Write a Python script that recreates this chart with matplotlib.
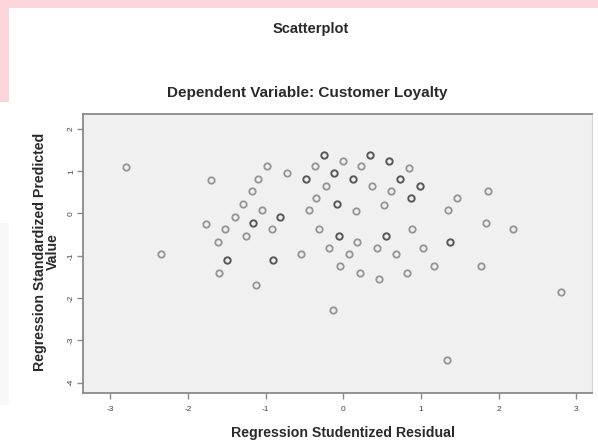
import matplotlib
matplotlib.use("Agg")
import matplotlib.pyplot as plt
from matplotlib.patches import Rectangle

plt.rcParams['font.family'] = ['Liberation Sans', 'DejaVu Sans']

# studentized residual (x) / standardized predicted value (y)
# n_cases = 2 where two cases sit on the same spot (drawn darker)
resid = [-2.80, -1.70, -1.10, -1.18, -1.29, -1.40, -1.05, -1.77, -1.52, -1.16,
         -1.62, -1.26, -2.35, -1.50, -1.60, -0.25, 0.35, 0.59, -0.01, -0.98,
         -0.37, 0.23, 0.84, -0.73, -0.12, -0.48, 0.12, 0.73, -0.22, 0.37,
         0.99, 0.62, -0.35, 0.87, 0.53, -0.44, -0.08, 0.16, -0.82, -0.92,
         -0.31, 0.89, -0.06, 0.55, 0.18, -0.18, 0.43, 1.03, -0.54, 0.07,
         0.68, -0.90, -0.04, 1.46, 1.87, 1.35, 1.84, 2.18, 1.38, 1.17,
         1.78, -1.13, -0.13, 0.22, 0.46, 0.82, 2.80, 1.33]
pred = [1.09, 0.79, 0.81, 0.52, 0.22, -0.09, 0.07, -0.25, -0.37, -0.23,
        -0.67, -0.53, -0.96, -1.11, -1.40, 1.38, 1.38, 1.23, 1.23, 1.11,
        1.11, 1.11, 1.08, 0.95, 0.95, 0.81, 0.81, 0.81, 0.66, 0.66,
        0.66, 0.52, 0.37, 0.36, 0.21, 0.07, 0.22, 0.06, -0.09, -0.37,
        -0.37, -0.37, -0.53, -0.53, -0.67, -0.81, -0.81, -0.81, -0.96, -0.96,
        -0.96, -1.11, -1.25, 0.36, 0.52, 0.07, -0.23, -0.37, -0.67, -1.24,
        -1.24, -1.69, -2.28, -1.40, -1.55, -1.40, -1.85, -3.47]
n_cases = [1, 1, 1, 1, 1, 1, 1, 1, 1, 2,
           1, 1, 1, 2, 1, 2, 2, 2, 1, 1,
           1, 1, 1, 1, 2, 2, 2, 2, 1, 1,
           2, 1, 1, 2, 1, 1, 2, 1, 2, 1,
           1, 1, 2, 2, 1, 1, 1, 1, 1, 1,
           1, 2, 1, 1, 1, 1, 1, 1, 2, 1,
           1, 1, 1, 1, 1, 1, 1, 1]

x_ticks = [-3, -2, -1, 0, 1, 2, 3]
y_ticks = [2, 1, 0, -1, -2, -3, -4]

fig = plt.figure(figsize=(5.98, 4.43), dpi=100)
fig.patch.set_facecolor('white')

# pink frame strip at top / left and faint panel at lower left
fig.patches.append(Rectangle((0, 1 - 7.5 / 443), 1, 7.5 / 443, transform=fig.transFigure,
                             facecolor='#fcd5db', edgecolor='none', zorder=0))
fig.patches.append(Rectangle((0, 1 - 102 / 443), 8.5 / 598, 102 / 443, transform=fig.transFigure,
                             facecolor='#fcd5db', edgecolor='none', zorder=0))
fig.patches.append(Rectangle((0, 38 / 443), 8.5 / 598, (220 - 38) / 443, transform=fig.transFigure,
                             facecolor='#f8f8f8', edgecolor='none', zorder=0))

ax = fig.add_axes([83.3 / 598, 49.7 / 443, 508.4 / 598, 279.3 / 443])
ax.set_facecolor('#f0f0f0')

light = [(x, y) for x, y, n in zip(resid, pred, n_cases) if n == 1]
dark = [(x, y) for x, y, n in zip(resid, pred, n_cases) if n > 1]
ax.plot([p[0] for p in light], [p[1] for p in light], 'o', ls='none', ms=4.6,
        mfc='none', mec='#949494', mew=1.3)
ax.plot([p[0] for p in dark], [p[1] for p in dark], 'o', ls='none', ms=4.6,
        mfc='none', mec='#575757', mew=1.4)

ax.set_xlim(-3.35, 3.20)
ax.set_ylim(-4.25, 2.35)
ax.set_xticks(x_ticks)
ax.set_yticks(y_ticks)
ax.set_xticklabels([str(t) for t in x_ticks])
ax.set_yticklabels([str(t) for t in y_ticks], rotation=90, va='center')

for side in ['left', 'bottom', 'top']:
    ax.spines[side].set_color('#8a8a8a')
    ax.spines[side].set_linewidth(1.3)
ax.spines['right'].set_color('#d6d6d6')
ax.spines['right'].set_linewidth(0.8)

ax.tick_params(axis='both', direction='out', length=4, width=1.0, color='#8a8a8a',
               labelsize=6, labelcolor='#444444')
ax.tick_params(axis='x', pad=5)
ax.tick_params(axis='y', pad=2)

fig.text(311 / 598, 1 - 28.6 / 443, 'Scatterplot', ha='center', va='center',
         fontsize=10.5, fontweight='bold', color='#2a2a2a')
fig.text(307 / 598, 1 - 93 / 443, 'Dependent Variable: Customer Loyalty', ha='center',
         va='center', fontsize=11, fontweight='bold', color='#2a2a2a')
fig.text(46.5 / 598, 1 - 252 / 443, 'Regression Standardized Predicted\nValue',
         rotation=90, ha='center', va='center', multialignment='center',
         fontsize=10.2, fontweight='bold', color='#2a2a2a', linespacing=0.95)
fig.text(343 / 598, 1 - 433 / 443, 'Regression Studentized Residual', ha='center',
         va='center', fontsize=10.2, fontweight='bold', color='#2a2a2a')

fig.savefig('out.png', dpi=100)
